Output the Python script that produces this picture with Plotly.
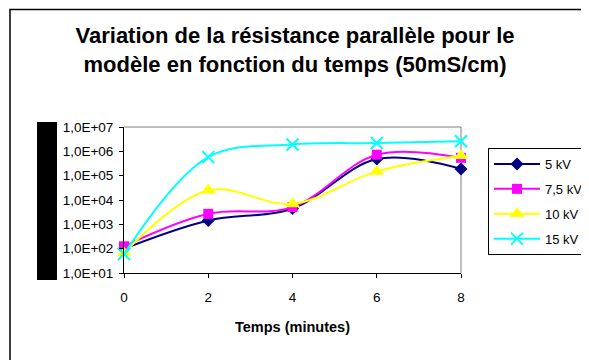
import plotly.graph_objects as go

# temps (minutes)
temps = [0, 2, 4, 6, 8]

# résistance parallèle (ohm)
r_5kv = [100, 1450, 4500, 480000, 190000]
r_7_5kv = [125, 2700, 5100, 730000, 540000]
r_10kv = [66, 25000, 6900, 150000, 660000]
r_15kv = [60, 580000, 1900000, 2200000, 2600000]

series_names = ["5 kV", "7,5 kV", "10 kV", "15 kV"]
series_values = [r_5kv, r_7_5kv, r_10kv, r_15kv]
series_colors = ["#000080", "#FF00FF", "#FFFF00", "#00FFFF"]
series_symbols = ["diamond", "square", "triangle-up", "x-thin-open"]
series_sizes = [10, 10, 13, 12]

ytick_vals = [1e1, 1e2, 1e3, 1e4, 1e5, 1e6, 1e7]
ytick_text = ["1,0E+01", "1,0E+02", "1,0E+03", "1,0E+04", "1,0E+05", "1,0E+06", "1,0E+07"]

FONT = "Liberation Sans, Arial, sans-serif"

# the page body adds an 8px margin, so work in page pixels and shift
OFF = 8
W, H = 589 - OFF, 360 - OFF
L, R, T, B = 124, 461, 127, 273  # plot area, page pixels


def px_x(p):
    return (p - L) / (R - L)


def px_y(p):
    return (B - p) / (B - T)


fig = go.Figure()
for i, (name, vals) in enumerate(zip(series_names, series_values)):
    sym = series_symbols[i]
    marker = dict(symbol=sym, size=series_sizes[i], color=series_colors[i])
    if sym.endswith("open"):
        marker["line"] = dict(color=series_colors[i], width=2)
    fig.add_trace(
        go.Scatter(
            x=temps,
            y=vals,
            name=name,
            mode="lines+markers",
            line=dict(color=series_colors[i], width=2, shape="spline", smoothing=1),
            marker=marker,
            cliponaxis=False,
            legendgroup=name,
        )
    )

fig.update_layout(
    width=W,
    height=H,
    margin=dict(l=L - OFF, r=W - (R - OFF), t=T - OFF, b=H - (B - OFF), autoexpand=False),
    plot_bgcolor="white",
    paper_bgcolor="white",
    font=dict(family=FONT, size=13.5, color="black"),
    showlegend=True,
    legend=dict(
        x=px_x(488),
        y=px_y(148),
        xanchor="left",
        yanchor="top",
        bordercolor="black",
        borderwidth=1,
        font=dict(family=FONT, size=13, color="black"),
        tracegroupgap=5,
        itemwidth=46,
    ),
    xaxis=dict(
        range=[0, 8],
        tickvals=temps,
        ticks="outside",
        ticklen=4,
        tickcolor="black",
        ticklabelstandoff=8,
        showline=True,
        linecolor="black",
        linewidth=1,
        showgrid=False,
        zeroline=False,
        title=dict(text="<b>Temps (minutes)</b>", font=dict(size=14.5), standoff=17),
    ),
    yaxis=dict(
        type="log",
        range=[1, 7],
        tickvals=ytick_vals,
        ticktext=ytick_text,
        ticks="outside",
        ticklen=4,
        tickcolor="black",
        ticklabelstandoff=3,
        showline=True,
        linecolor="black",
        linewidth=1,
        showgrid=False,
        zeroline=False,
    ),
    title=dict(
        text="<b>Variation de la résistance parallèle pour le<br>modèle en fonction du temps (50mS/cm)</b>",
        x=(295 - OFF) / W,
        xanchor="center",
        y=1 - (43 - OFF) / H,
        yanchor="middle",
        font=dict(family=FONT, size=22, color="black"),
    ),
)

# plot area border (gray top/right)
fig.add_shape(type="line", xref="paper", yref="paper", x0=0, x1=1, y0=1, y1=1,
              line=dict(color="#808080", width=1), layer="below")
fig.add_shape(type="line", xref="paper", yref="paper", x0=1, x1=1, y0=0, y1=1,
              line=dict(color="#808080", width=1), layer="below")

# chart area border
fig.add_shape(type="rect", xref="paper", yref="paper",
              x0=px_x(10), x1=px_x(620), y0=px_y(9.5), y1=px_y(420),
              line=dict(color="black", width=1.5), fillcolor="rgba(0,0,0,0)")

# black block where the y axis title sits
fig.add_shape(type="rect", xref="paper", yref="paper",
              x0=px_x(37), x1=px_x(57), y0=px_y(122), y1=px_y(280),
              line=dict(width=0), fillcolor="black")

fig.write_html("out.html")
